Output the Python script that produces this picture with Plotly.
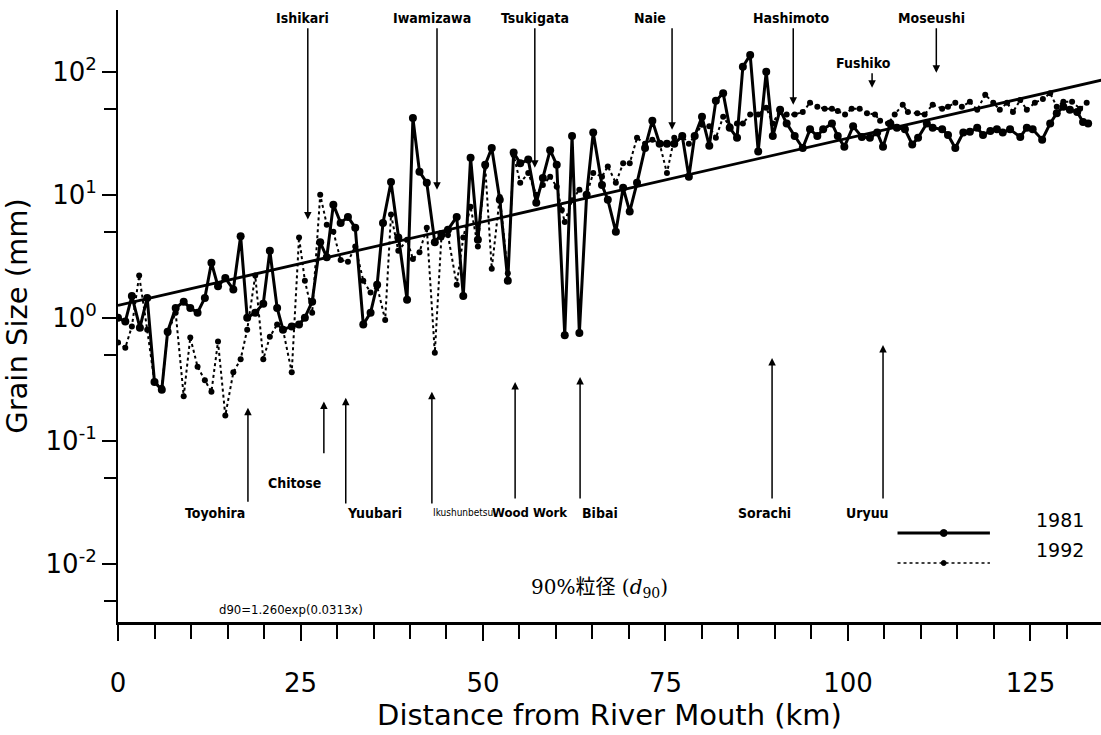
import numpy as np
import plotly.graph_objects as go

# ---------------- data ----------------
km_1981 = [0.0, 1.0, 1.9, 3.0, 4.0, 5.0, 6.0, 6.8, 7.9, 9.0, 9.9, 10.9, 11.9, 12.8, 13.7, 14.7,
           15.8, 16.8, 17.7, 18.8, 19.9, 20.8, 21.8, 22.6, 23.8, 24.8, 25.6, 26.6, 27.7, 28.6,
           29.5, 30.5, 31.5, 32.5, 33.6, 34.6, 35.5, 36.3, 37.4, 38.4, 39.6, 40.4, 41.3, 42.3,
           43.4, 44.3, 45.2, 46.4, 47.3, 48.3, 49.3, 50.3, 51.2, 52.3, 53.4, 54.2, 55.1, 56.2,
           57.3, 58.2, 59.2, 60.1, 61.2, 62.2, 63.2, 64.2, 65.1, 66.3, 67.1, 68.2, 69.2, 70.1,
           71.1, 72.2, 73.2, 74.2, 75.2, 76.2, 77.3, 78.2, 79.0, 80.0, 81.0, 81.9, 82.9, 83.8,
           84.8, 85.6, 86.6, 87.7, 88.8, 89.7, 90.7, 91.6, 92.7, 93.8, 94.8, 95.8, 96.6, 97.8,
           98.6, 99.5, 100.7, 101.9, 103.0, 104.0, 104.8, 105.8, 106.7, 107.8, 108.8, 109.6,
           110.8, 111.6, 112.9, 113.7, 114.7, 115.8, 116.7, 117.7, 118.5, 119.5, 120.4, 121.2,
           122.2, 123.6, 124.5, 125.3, 126.6, 127.7, 128.6, 129.5, 130.4, 131.4, 132.2, 132.9]
d90_1981 = [1.0, 0.93, 1.5, 0.83, 1.45, 0.3, 0.26, 0.77, 1.2, 1.35, 1.2, 1.1, 1.45, 2.8, 1.8, 2.1,
            1.7, 4.6, 1.0, 1.1, 1.3, 3.5, 1.2, 0.8, 0.85, 0.88, 1.0, 1.35, 4.1, 3.1,
            8.3, 5.9, 6.6, 5.4, 0.88, 1.1, 1.85, 5.9, 12.7, 4.5, 1.4, 42, 15.4, 12.5,
            4.1, 4.8, 5.2, 6.6, 1.5, 20, 4.3, 17.5, 24, 9.1, 2.0, 22, 18, 19.3,
            8.6, 13.7, 23, 17.5, 0.72, 30, 0.75, 10, 32, 12, 9.1, 5.0, 11.4, 7.3,
            12.5, 24, 40, 26, 26, 26, 30, 14, 30, 43, 25, 58, 67, 35,
            29, 110, 137, 22.5, 100, 30, 49, 38, 30, 24, 34, 30, 34, 38,
            30, 24.5, 36, 29.5, 29, 32, 24.5, 38, 35, 34, 25.6, 29,
            38, 35, 34, 30.6, 24, 32, 32.5, 35, 30.6, 33, 34, 32,
            34, 29.5, 35, 34, 28, 38, 46, 52, 49, 47, 39, 38]

km_1992 = [0.0, 1.0, 1.9, 2.9, 4.0, 5.0, 6.0, 6.8, 7.9, 9.0, 9.9, 10.9, 11.9, 12.8, 13.7, 14.7,
           15.8, 16.8, 17.7, 18.8, 19.9, 20.8, 21.8, 22.6, 23.8, 24.8, 25.6, 26.6, 27.7, 28.6,
           29.5, 30.5, 31.5, 32.5, 33.6, 34.6, 35.5, 36.6, 37.4, 38.4, 39.6, 40.4, 41.3, 42.3,
           43.4, 44.3, 45.2, 46.4, 47.3, 48.3, 49.3, 50.3, 51.2, 52.3, 53.4, 54.2, 55.1, 56.2,
           57.3, 58.2, 59.2, 60.1, 60.8, 61.2, 62.2, 63.2, 64.2, 65.1, 66.3, 67.1, 68.2, 69.2,
           70.1, 71.1, 72.2, 73.2, 74.2, 75.2, 76.2, 77.3, 78.2, 79.0, 80.0, 81.0, 81.9, 82.9,
           83.8, 84.8, 85.6, 86.6, 87.7, 88.8, 89.7, 90.7, 91.6, 92.7, 93.8, 94.8, 95.8, 96.8,
           97.8, 98.6, 99.6, 100.5, 101.6, 102.6, 103.7, 104.4, 105.5, 106.4, 107.5, 108.2,
           109.5, 110.5, 111.6, 112.9, 113.7, 114.7, 115.6, 116.7, 117.7, 118.8, 119.9, 120.8,
           121.8, 122.6, 123.6, 124.5, 125.6, 126.7, 127.7, 128.6, 129.5, 130.7, 131.8, 132.7]
d90_1992 = [0.63, 0.57, 0.85, 2.2, 0.8, 0.3, 0.27, 0.75, 1.1, 0.23, 0.69, 0.4, 0.31, 0.25, 0.64, 0.16,
            0.36, 0.46, 0.8, 2.2, 0.46, 0.7, 0.88, 0.8, 0.36, 4.5, 2.0, 1.1, 10, 5.7,
            5.0, 2.95, 2.85, 3.8, 2.0, 1.6, 1.8, 0.96, 6.9, 3.5, 4.3, 3.0, 3.4, 5.4,
            0.52, 4.5, 4.7, 1.85, 4.5, 8, 3.8, 17, 2.5, 9.6, 2.3, 21, 12.5, 15,
            10, 12, 14, 11.6, 7.5, 6.0, 9, 11, 10, 15, 14, 17, 12.5, 18,
            18, 29, 26, 28, 26, 15, 29, 30, 26, 30, 37, 36, 29, 43,
            36, 38, 38, 45, 45, 51, 38, 49, 45, 45, 47, 56, 52, 50,
            50, 48, 45, 50, 50, 46, 45, 40, 38, 45, 54, 47,
            46, 45, 54, 50, 52, 56, 52, 57, 49, 65, 56, 49,
            56, 47, 59, 49, 56, 60, 67, 52, 57, 57, 50, 56]

fit_a = 1.260
fit_b = 0.0313

top_labels = ["Ishikari", "Iwamizawa", "Tsukigata", "Naie", "Hashimoto", "Fushiko", "Moseushi"]
bottom_labels = ["Toyohira", "Chitose", "Yuubari", "Ikushunbetsu", "Wood Work", "Bibai", "Sorachi", "Uryuu"]

# ---------------- annotation placement ----------------
top_arrow_km = [26.0, 43.7, 57.1, 75.9, 92.5, 103.3, 112.1]
top_arrow_tip = [6.3, 11.0, 16.6, 33.7, 54, 74, 98]
top_arrow_tail = [232, 232, 232, 232, 232, 100, 232]
top_text_km = [25.3, 43.0, 57.1, 72.9, 92.3, 102.1, 111.5]
top_text_y = [275, 275, 275, 275, 275, 118, 275]

bot_arrow_km = [17.8, 28.2, 31.2, 43.0, 54.4, 63.3, 89.6, 104.8]
bot_arrow_tip = [0.185, 0.208, 0.224, 0.25, 0.30, 0.33, 0.47, 0.60]
bot_arrow_tail = [0.031, 0.077, 0.030, 0.030, 0.033, 0.033, 0.033, 0.033]
bot_text_km = [13.3, 24.2, 35.2, 42.9, 51.0, 66.0, 88.5, 102.7]
bot_text_anchor = ["center", "center", "center", "left", "left", "center", "center", "center"]
bot_text_size = [14, 14, 14, 10, 13, 14, 14, 14]
bot_text_weight = ["bold", "bold", "bold", "normal", "bold", "bold", "bold", "bold"]
bot_text_y = [0.026, 0.0456, 0.026, 0.026, 0.026, 0.026, 0.026, 0.026]

LBL_FONT = "DejaVu Sans Condensed, Liberation Sans Narrow, DejaVu Sans"
AX_FONT = "DejaVu Sans, Liberation Sans"

fig = go.Figure()

x_fit = np.linspace(0, 134.7, 60)
fig.add_trace(go.Scatter(x=x_fit, y=fit_a * np.exp(fit_b * x_fit), mode="lines",
                         line=dict(color="black", width=2.8), showlegend=False, hoverinfo="skip"))

fig.add_trace(go.Scatter(x=km_1992, y=d90_1992, mode="lines+markers", name="1992",
                         line=dict(color="black", width=2, dash="dot"),
                         marker=dict(symbol="circle", size=6, color="black"), showlegend=False))
fig.add_trace(go.Scatter(x=km_1981, y=d90_1981, mode="lines+markers", name="1981",
                         line=dict(color="black", width=3),
                         marker=dict(symbol="circle", size=8, color="black"), showlegend=False))

ann = []
L = np.log10
for name, ak, tip, tail, tk, ty in zip(top_labels, top_arrow_km, top_arrow_tip, top_arrow_tail,
                                        top_text_km, top_text_y):
    ann.append(dict(x=ak, y=L(tip), ax=ak, ay=L(tail), xref="x", yref="y", axref="x", ayref="y",
                    text="", showarrow=True, arrowhead=2, arrowsize=1, arrowwidth=1.5,
                    arrowcolor="black", standoff=0, startstandoff=0))
    ann.append(dict(x=tk, y=L(ty), xref="x", yref="y", text=name, showarrow=False,
                    font=dict(family=LBL_FONT, size=14, color="black", weight="bold")))

for name, ak, tip, tail, tk, anc, sz, wt, ty in zip(bottom_labels, bot_arrow_km, bot_arrow_tip,
                                                     bot_arrow_tail, bot_text_km, bot_text_anchor,
                                                     bot_text_size, bot_text_weight, bot_text_y):
    ann.append(dict(x=ak, y=L(tip), ax=ak, ay=L(tail), xref="x", yref="y", axref="x", ayref="y",
                    text="", showarrow=True, arrowhead=2, arrowsize=1, arrowwidth=1.5,
                    arrowcolor="black", standoff=0, startstandoff=0))
    ann.append(dict(x=tk, y=L(ty), xref="x", yref="y", text=name, showarrow=False, xanchor=anc,
                    font=dict(family=LBL_FONT, size=sz, color="black", weight=wt)))

ann.append(dict(x=23.7, y=L(0.00423), xref="x", yref="y", text="d90=1.260exp(0.0313x)",
                showarrow=False, font=dict(family=LBL_FONT, size=13, color="black")))
ann.append(dict(x=66.0, y=L(0.0064), xref="x", yref="y",
                text="90%粒径 (<i>d</i><sub>90</sub>)", showarrow=False,
                font=dict(family="DejaVu Serif, Noto Sans CJK JP", size=20, color="black")))

# legend (drawn by hand)
ann.append(dict(x=0.932, y=0.1454, xref="paper", yref="paper", text="1981", showarrow=False,
                xanchor="left", font=dict(family=AX_FONT, size=19, color="black")))
ann.append(dict(x=0.932, y=0.0964, xref="paper", yref="paper", text="1992", showarrow=False,
                xanchor="left", font=dict(family=AX_FONT, size=19, color="black")))

shapes = [
    dict(type="line", xref="paper", yref="paper", x0=0.793, x1=0.887, y0=0.1454, y1=0.1454,
         line=dict(color="black", width=3)),
    dict(type="circle", xref="paper", yref="paper", x0=0.8365, x1=0.8435, y0=0.1397, y1=0.1511,
         fillcolor="black", line=dict(color="black", width=1)),
    dict(type="line", xref="paper", yref="paper", x0=0.793, x1=0.887, y0=0.0964, y1=0.0964,
         line=dict(color="black", width=1.5, dash="dot")),
    dict(type="circle", xref="paper", yref="paper", x0=0.8375, x1=0.8425, y0=0.0923, y1=0.1005,
         fillcolor="black", line=dict(color="black", width=1)),
]

fig.update_layout(
    width=1101, height=735,
    margin=dict(l=118, r=0, t=10, b=113),
    paper_bgcolor="white", plot_bgcolor="white",
    annotations=ann, shapes=shapes,
    xaxis=dict(range=[0, 134.66], showgrid=False, zeroline=False, showline=True,
               linecolor="black", linewidth=3, ticks="outside", ticklen=16, tickwidth=2,
               tickcolor="black", tickvals=[0, 25, 50, 75, 100, 125], ticklabelstandoff=20,
               tickfont=dict(family=AX_FONT, size=26, color="black"),
               minor=dict(tickvals=[5, 10, 15, 20, 30, 35, 40, 45, 55, 60, 65, 70, 80, 85, 90, 95,
                                    105, 110, 115, 120, 130], ticks="outside", ticklen=14,
                          tickwidth=2, tickcolor="black"),
               title=dict(text="Distance from River Mouth (km)", standoff=6,
                          font=dict(family=AX_FONT, size=29, color="black"))),
    yaxis=dict(type="log", range=[-2.474, 2.502], showgrid=False, zeroline=False, showline=True,
               linecolor="black", linewidth=2, ticks="outside", ticklen=14, tickwidth=2,
               tickcolor="black", tickvals=[0.01, 0.1, 1, 10, 100],
               ticktext=["10<sup>-2</sup>", "10<sup>-1</sup>", "10<sup>0</sup>", "10<sup>1</sup>",
                         "10<sup>2</sup>"],
               tickfont=dict(family=AX_FONT, size=26, color="black"),
               minor=dict(tickvals=[0.005, 0.05, 0.5, 5, 50], ticks="outside", ticklen=12,
                          tickwidth=2, tickcolor="black"),
               title=dict(text="Grain Size (mm)", standoff=12,
                          font=dict(family=AX_FONT, size=29, color="black"))),
)

fig.write_html("out.html")
